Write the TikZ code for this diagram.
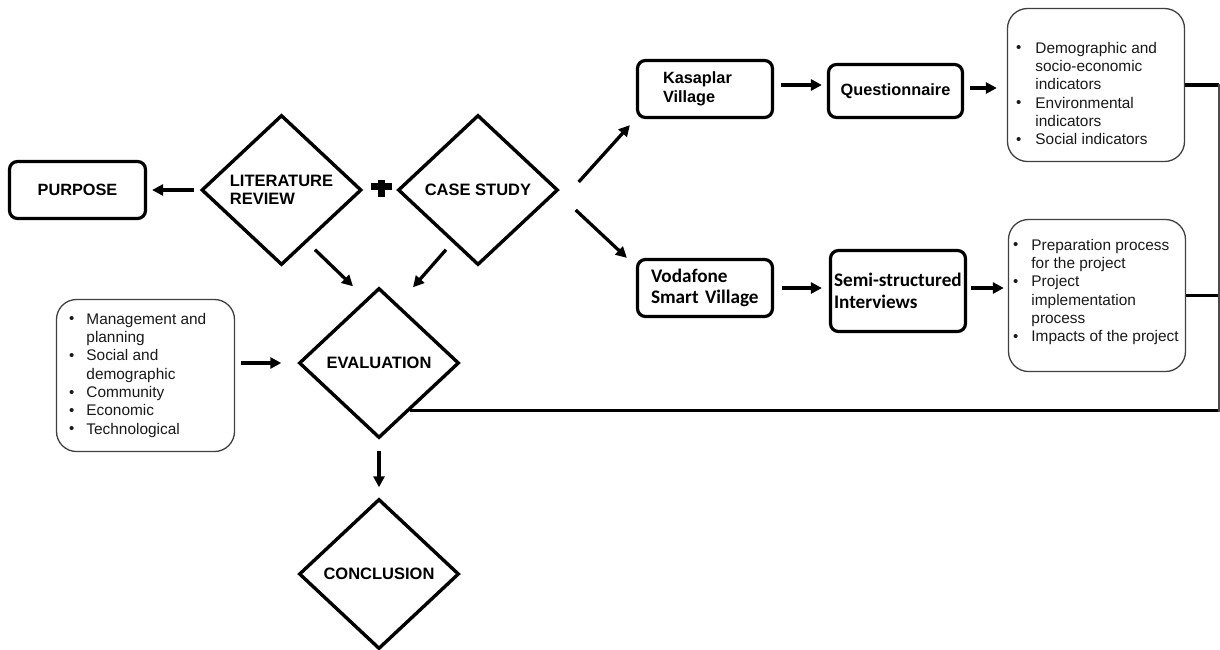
\documentclass[tikz,border=0pt]{standalone}
\usepackage{fontspec}
\setmainfont{Liberation Sans}
\newfontfamily\calib{Carlito}
\usetikzlibrary{shapes.geometric,arrows.meta,calc}
\newcommand\bul{{\fontsize{15}{15}\selectfont\raisebox{0.3pt}{•}}}
\begin{document}
\begin{tikzpicture}[x=1pt,y=-1pt,
  dia/.style={diamond, draw, line width=3.4pt, minimum width=160pt, minimum height=150pt,
    inner sep=0pt, font=\fontsize{16.5}{18}\selectfont\bfseries, align=left},
  bbox/.style={draw, line width=3.2pt, rounded corners=8pt, inner sep=0pt},
  bfont/.style={font=\fontsize{16.3}{19}\selectfont\bfseries},
  cfont/.style={font=\fontsize{19.2}{21.5}\selectfont\calib\bfseries},
  lbox/.style={draw=black!75, line width=1.3pt, rounded corners=20pt, inner sep=0pt},
  ltext/.style={anchor=north west, inner sep=0pt, text=black!90,
    font=\fontsize{15.4}{18.33}\selectfont},
  arr/.style={line width=3.3pt, -{Triangle[length=11pt,width=11pt]}},
  conn/.style={line width=3.3pt},
]
\path[fill=white] (0,0) rectangle (1220,649);
\useasboundingbox (0,0) rectangle (1220,649);

% main nodes
\node[bbox, bfont, minimum width=136pt, minimum height=57pt] (purpose) at (77.5,190) {PURPOSE};
\node[dia] (lit) at (281.5,190) {LITERATURE\\REVIEW};
\node[dia] (cs) at (478,190) {CASE STUDY};
\node[dia] (eval) at (379,363) {EVALUATION};
\node[dia] (conc) at (379,574) {CONCLUSION};

% plus sign
\fill (371,183) rectangle (392,190);
\fill (378,180) rectangle (385,197);

\node[bbox, bfont, minimum width=135pt, minimum height=57pt, text width=84pt, align=left] (kas) at (705,89) {Kasaplar\\Village};
\node[bbox, bfont, minimum width=134pt, minimum height=53pt] (quest) at (895.5,91) {Questionnaire};
\node[bbox, cfont, minimum width=135pt, minimum height=57pt, text width=108pt, align=left] (vod) at (705,288) {Vodafone\\Smart Village};
\node[bbox, cfont, minimum width=135pt, minimum height=81pt, text width=128pt, align=left] (semi) at (898,291) {\mbox{Semi-structured}\\Interviews};

% bullet boxes
\node[lbox, minimum width=177pt, minimum height=153pt] (demo) at (1096,85) {};
\node[ltext] (demotext) at (1016,40.2) {\begin{tabular}{@{}c@{\hspace{14pt}}l@{}}
\bul & Demographic and\\ & socio-economic\\ & indicators\\
\bul & Environmental\\ & indicators\\
\bul & Social indicators\end{tabular}};

\node[lbox, minimum width=177pt, minimum height=152pt] (prep) at (1097,295.5) {};
\node[ltext] (preptext) at (1013,237.2) {\begin{tabular}{@{}c@{\hspace{13pt}}l@{}}
\bul & Preparation process\\ & for the project\\
\bul & Project\\ & implementation\\ & process\\
\bul & Impacts of the project\end{tabular}};

\node[lbox, minimum width=178pt, minimum height=152pt] (crit) at (145.5,375.5) {};
\node[ltext] (crittext) at (69,311.2) {\begin{tabular}{@{}c@{\hspace{12pt}}l@{}}
\bul & Management and\\ & planning\\
\bul & Social and\\ & demographic\\
\bul & Community\\
\bul & Economic\\
\bul & Technological\end{tabular}};

% arrows
\draw[arr] ($(lit.west)+(-6,0)$) -- ($(purpose.east)+(5,0)$);
\draw[arr] ($(cs.east)+(19,-8)$) -- ($(kas.south west)+(-6,6)$);
\draw[arr] ($(cs.east)+(16,20)$) -- ($(vod.north west)+(-9,0)$);
\draw[arr] ($(lit.south)+(33.5,-17)$) -- ($(eval.north)+(-26,0)$);
\draw[arr] ($(cs.south)+(-32,-17)$) -- ($(eval.north)+(34,1)$);
\draw[arr] ($(crit.east |- eval.west)+(6,0)$) -- ($(eval.west)+(-16,0)$);
\draw[arr] ($(eval.south)+(0,11)$) -- ($(conc.north)+(0,-10)$);
\draw[arr] ($(kas.east)+(7,-4)$) -- ($(kas.east -| quest.west)+(-5,-4)$);
\draw[arr] ($(quest.east)+(6,-3)$) -- ($(quest.east -| demo.west)+(-10,-3)$);
\draw[arr] ($(vod.east)+(8,0)$) -- ($(vod.east -| semi.west)+(-7,0)$);
\draw[arr] ($(semi.east)+(4,-3)$) -- ($(semi.east -| prep.west)+(-4,-3)$);

% feedback lines
\coordinate (rt) at (1219,84);
\coordinate (rb) at (1219,411.5);
\coordinate (evc) at ($(eval.east)!0.623!(eval.south)$);
\draw[conn] (demo.east) -- (demo.east -| rt);
\draw[conn] (prep.east) -- (prep.east -| rt);
\draw[conn] (evc) -- (evc -| rb);
\draw[line width=1.2pt, black!70] (rt) -- (rb);
\end{tikzpicture}
\end{document}
